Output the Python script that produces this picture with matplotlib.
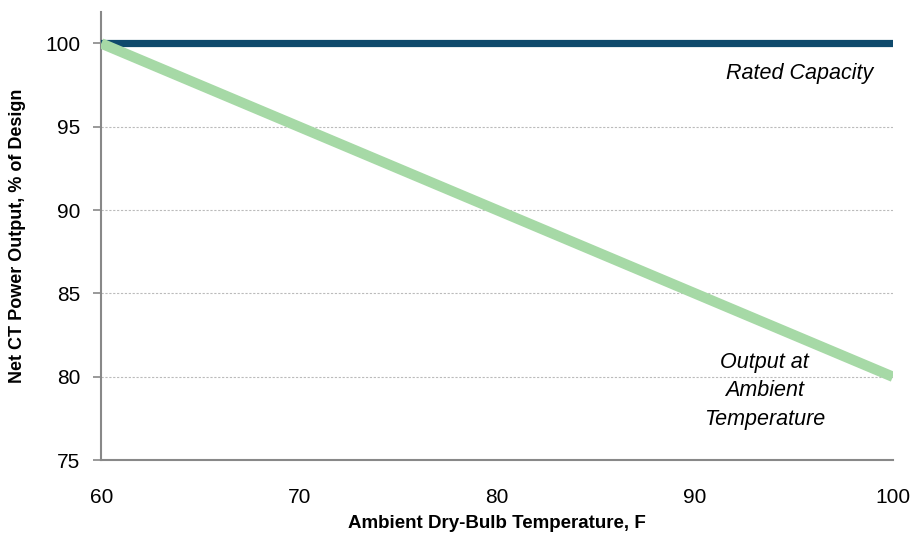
import matplotlib
matplotlib.use('Agg')
import matplotlib.pyplot as plt

temp = [60, 100]
rated = [100, 100]
output = [100, 80]
xticks = [60, 70, 80, 90, 100]
yticks = [75, 80, 85, 90, 95, 100]

fig = plt.figure(figsize=(9.12, 5.35), dpi=100)
ax = fig.add_axes([0.111, 0.14, 0.868, 0.838])

ax.plot(temp, rated, color='#0f4a6c', lw=5.2, solid_capstyle='round', zorder=3)
ax.plot(temp, output, color='#a6d9a6', lw=7.5, solid_capstyle='butt', zorder=4)

ax.set_xlim(60, 100)
ax.set_ylim(75, 101.9)
ax.set_xticks(xticks)
ax.set_yticks(yticks)
for y in yticks[1:]:
    ax.axhline(y, color='#bbbbbb', lw=0.8, ls=(0, (2, 1.5)), zorder=1)

for s in ['top', 'right']:
    ax.spines[s].set_visible(False)
for s in ['left', 'bottom']:
    ax.spines[s].set_color('#888888')
    ax.spines[s].set_linewidth(1.5)
ax.tick_params(axis='y', length=6, width=1.2, color='#888888', pad=9)
ax.tick_params(axis='x', length=0, pad=20)
for lab in ax.get_xticklabels() + ax.get_yticklabels():
    lab.set_family('Liberation Sans')
    lab.set_fontsize(15)

ax.set_xlabel('Ambient Dry-Bulb Temperature, F', family='Liberation Sans', fontweight='bold',
              fontsize=13.5, labelpad=6)
ax.set_ylabel('Net CT Power Output, % of Design', family='Liberation Sans', fontweight='bold',
              fontsize=13, labelpad=14)

ax.text(95.3, 98.2, 'Rated Capacity', family='Liberation Sans', style='italic',
        fontsize=15.5, ha='center', va='center')
ax.text(93.5, 79.15, 'Output at\nAmbient\nTemperature', family='Liberation Sans', style='italic',
        fontsize=15.5, ha='center', va='center', linespacing=1.45)

fig.savefig('out.png', dpi=100)
